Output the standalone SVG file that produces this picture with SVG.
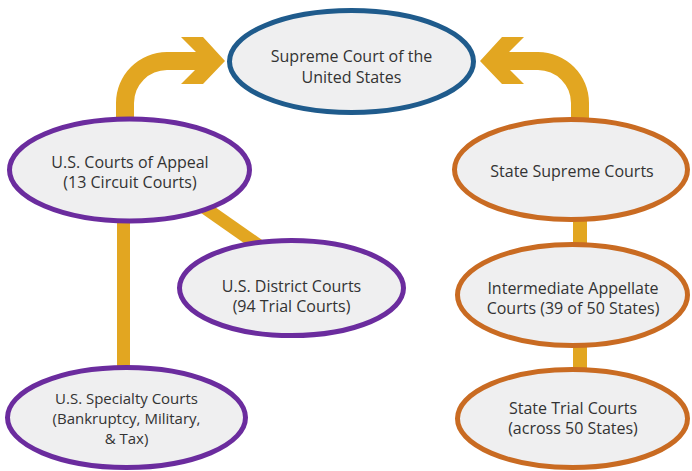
<svg xmlns="http://www.w3.org/2000/svg" width="692" height="471" viewBox="0 0 692 471">
<style>
.node ellipse{fill:#efeff0;stroke-width:5}
.fed ellipse{stroke:#6b2c9e}
.state ellipse{stroke:#c96b22}
.top ellipse{stroke:#1f5b8c}
text{font-family:"Open Sans","Liberation Sans",sans-serif;font-size:16px;fill:#333;text-anchor:middle}
.tight text{font-size:15px}
.link{stroke:#e2a621;fill:none}
.arrow{fill:#e2a621}
</style>
<rect width="692" height="471" fill="#ffffff"/>
<g id="connectors">
<line class="link" x1="123.5" y1="200" x2="123.5" y2="390" stroke-width="13"/>
<line class="link" x1="198" y1="203" x2="268" y2="252" stroke-width="13"/>
<line class="link" x1="580" y1="200" x2="580" y2="270" stroke-width="14"/>
<line class="link" x1="580" y1="320" x2="580" y2="390" stroke-width="14"/>
<path class="arrow" d="M116,130 L116,103 A51,51 0 0 1 167,52 L196,52 L181,37 L203,37 L225,61 L203,84 L181,84 L195,70 L167,70 A33,33 0 0 0 134,103 L134,130 Z"/>
<path class="arrow" d="M589,130 L589,103 A51,51 0 0 0 538,52 L509,52 L524,37 L502,37 L480,61 L502,84 L524,84 L510,70 L538,70 A33,33 0 0 1 571,103 L571,130 Z"/>
</g>
<g id="supreme" class="node top">
<ellipse cx="351.5" cy="61.5" rx="122" ry="51"/>
<text x="351.5" y="62">Supreme Court of the</text>
<text x="351.5" y="83">United States</text>
</g>
<g id="appeals" class="node fed">
<ellipse cx="129.5" cy="170" rx="120" ry="51"/>
<text x="130" y="168">U.S. Courts of Appeal</text>
<text x="130" y="188">(13 Circuit Courts)</text>
</g>
<g id="district" class="node fed">
<ellipse cx="291.5" cy="288" rx="112" ry="47.5"/>
<text x="291.5" y="292">U.S. District Courts</text>
<text x="291.5" y="312">(94 Trial Courts)</text>
</g>
<g id="specialty" class="node fed tight">
<ellipse cx="126.5" cy="417.5" rx="119" ry="50"/>
<text x="126.5" y="404">U.S. Specialty Courts</text>
<text x="126.5" y="424">(Bankruptcy, Military,</text>
<text x="126.5" y="444">&amp; Tax)</text>
</g>
<g id="state-supreme" class="node state">
<ellipse cx="571" cy="169.5" rx="116.5" ry="50"/>
<text x="572" y="177">State Supreme Courts</text>
</g>
<g id="intermediate" class="node state">
<ellipse cx="572.5" cy="295" rx="115" ry="50.5"/>
<text x="573" y="294">Intermediate Appellate</text>
<text x="573" y="314">Courts (39 of 50 States)</text>
</g>
<g id="trial" class="node state">
<ellipse cx="572.5" cy="418.5" rx="115" ry="49"/>
<text x="573" y="414">State Trial Courts</text>
<text x="573" y="434">(across 50 States)</text>
</g>
</svg>
